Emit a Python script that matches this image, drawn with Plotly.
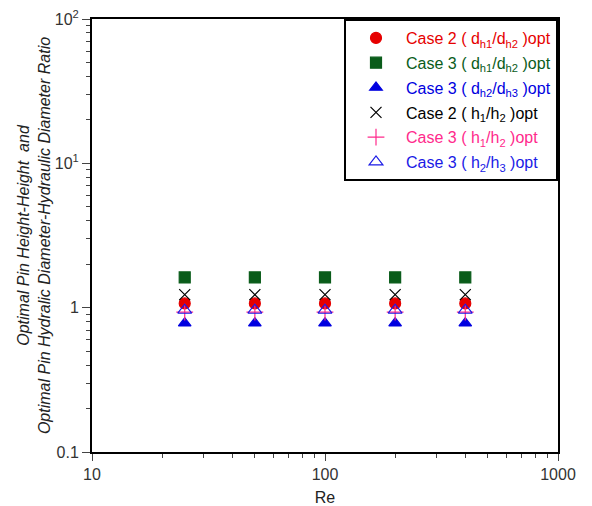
import plotly.graph_objects as go

re_vals = [25, 50, 100, 200, 400]
case2_dh1_dh2 = [1.07, 1.07, 1.07, 1.07, 1.07]
case3_dh1_dh2 = [1.62, 1.62, 1.62, 1.62, 1.62]
case3_dh2_dh3 = [0.78, 0.78, 0.78, 0.78, 0.78]
case2_h1_h2 = [1.23, 1.23, 1.23, 1.23, 1.23]
case3_h1_h2 = [0.93, 0.93, 0.93, 0.93, 0.93]
case3_h2_h3 = [0.96, 0.96, 0.96, 0.96, 0.96]

series = [
    ("Case 2 ( d<sub>h1</sub>/d<sub>h2</sub> )opt", case2_dh1_dh2, "circle", "#e60000", 11),
    ("Case 3 ( d<sub>h1</sub>/d<sub>h2</sub> )opt", case3_dh1_dh2, "square", "#0a5c1a", 11),
    ("Case 3 ( d<sub>h2</sub>/d<sub>h3</sub> )opt", case3_dh2_dh3, "triangle-up", "#0000e0", 11),
    ("Case 2 ( h<sub>1</sub>/h<sub>2</sub> )opt", case2_h1_h2, "x-thin-open", "#000000", 11),
    ("Case 3 ( h<sub>1</sub>/h<sub>2</sub> )opt", case3_h1_h2, "cross-thin-open", "#ff2a8c", 12),
    ("Case 3 ( h<sub>2</sub>/h<sub>3</sub> )opt", case3_h2_h3, "triangle-up-open", "#1a1ae6", 12),
]

fig = go.Figure()
for i, (name, vals, sym, col, sz) in enumerate(series):
    fig.add_trace(go.Scatter(
        x=re_vals, y=vals, mode="markers",
        name=f"<span style='color:{col}'>{name}</span>",
        legendgroup=f"g{i}",
        marker=dict(symbol=sym, color=col, size=sz, line=dict(color=col, width=1.2)),
    ))

minor_x = [v * m for v in (10, 100) for m in range(2, 10)]
minor_y = [v * m for v in (0.1, 1, 10) for m in range(2, 10)]

fig.update_layout(
    width=592, height=506,
    margin=dict(l=92, r=34, t=19, b=54),
    paper_bgcolor="white", plot_bgcolor="white",
    font=dict(family="Liberation Sans, Arial, sans-serif", size=16, color="#000"),
    showlegend=True,
    legend=dict(
        x=1, y=1, xanchor="right", yanchor="top",
        bgcolor="white", bordercolor="black", borderwidth=2,
        font=dict(size=16), itemwidth=50, tracegroupgap=1,
    ),
    xaxis=dict(
        type="log", range=[1, 3], automargin=False,
        tickvals=[10, 100, 1000], ticktext=["10", "100", "1000"],
        ticks="outside", ticklen=7, tickwidth=1, tickcolor="#444",
        minor=dict(tickvals=minor_x, ticks="outside", ticklen=4, tickcolor="#444", showgrid=False),
        showline=True, linecolor="black", linewidth=2, mirror=True,
        showgrid=False, zeroline=False,
        title=dict(text="Re", font=dict(size=16, color="#222"), standoff=10),
        tickfont=dict(size=16, color="#333"),
    ),
    yaxis=dict(
        type="log", range=[-1, 2], automargin=False,
        tickvals=[0.1, 1, 10, 100], ticktext=["0.1", "1", "10<sup>1</sup>", "10<sup>2</sup>"],
        ticks="outside", ticklen=8, tickwidth=1, tickcolor="#444",
        minor=dict(tickvals=minor_y, ticks="outside", ticklen=4, tickcolor="#444", showgrid=False),
        showline=True, linecolor="black", linewidth=2, mirror=True,
        showgrid=False, zeroline=False,
        title=dict(text="<i>Optimal Pin Height-Height  and</i><br><i>Optimal Pin Hydralic Diameter-Hydraulic Diameter Ratio</i>",
                   font=dict(size=16, color="#222"), standoff=0),
        tickfont=dict(size=16, color="#333"),
    ),
)

fig.write_html("out.html", config={"displayModeBar": False},
               post_script="document.body.style.margin='0';document.body.style.overflow='hidden';")
